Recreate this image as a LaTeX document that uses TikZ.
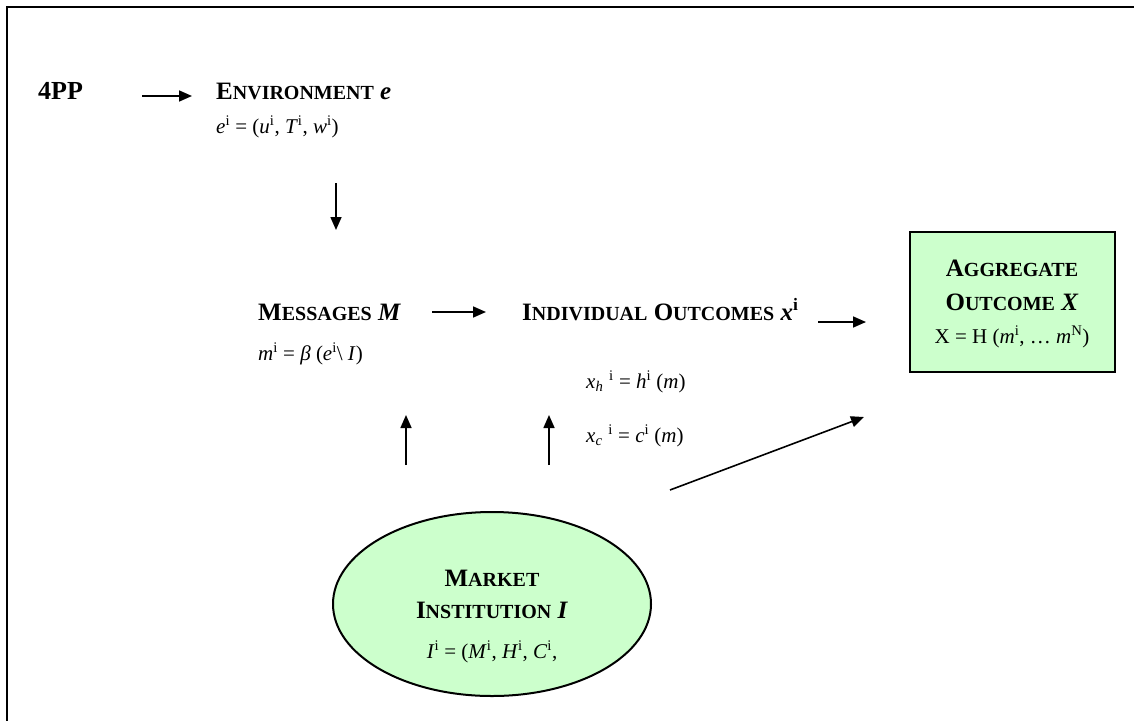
\documentclass[tikz,border=0pt]{standalone}
\usepackage{fontspec}
\setmainfont{Liberation Serif}
\usetikzlibrary{arrows.meta,shapes.geometric}
\definecolor{boxgreen}{HTML}{CCFFCC}
\newcommand{\hdw}[2]{{\bfseries #1{\fontsize{20}{22}\selectfont #2}}}
\newcommand{\sps}[1]{\textsuperscript{#1}}
\tikzset{
  hd/.style={anchor=base west, inner sep=0pt, font=\fontsize{25}{28}\selectfont},
  fm/.style={anchor=base west, inner sep=0pt, font=\fontsize{21}{24}\selectfont},
  arr/.style={line width=1.6pt, -{Triangle[length=13pt,width=11pt]}},
  frame/.style={line width=2pt},
  greenbox/.style={draw, line width=2pt, fill=boxgreen, inner sep=0pt},
}
\begin{document}
\begin{tikzpicture}[x=1pt,y=-1pt]
\useasboundingbox (0,0) rectangle (1134,720);
\draw[frame] (7,7) rectangle (1250,800);

% top row
\node[hd] (pp) at (38,99) {\bfseries\fontsize{26}{28}\selectfont 4PP};
\node[hd] (env) at (216,99) {\hdw{E}{NVIRONMENT} \textbf{\textit{e}}};
\node[fm] (envf) at (216,133) {\textit{e}\sps{i} = (\textit{u}\sps{i}, \textit{T}\sps{i}, \textit{w}\sps{i})};
\coordinate (a1s) at (142,96);
\coordinate (a1e) at (192,96);
\draw[arr] (a1s) -- (a1e);
\coordinate (a2s) at (336,183);
\coordinate (a2e) at (336,230);
\draw[arr] (a2s) -- (a2e);

% middle row
\node[hd] (msg) at (258,320) {\hdw{M}{ESSAGES} \textbf{\textit{M}}};
\node[fm] (msgf) at (258,360) {\textit{m}\sps{i} = \textit{β} (\textit{e}\sps{i}\textbackslash{} \textit{I})};
\node[hd] (ind) at (522,320) {\hdw{I}{NDIVIDUAL} \hdw{O}{UTCOMES} \textbf{\textit{x}}\sps{\bfseries i}};
\node[fm] (xh) at (586,388) {\textit{x\textsubscript{h}}\;\sps{i} = \textit{h}\sps{i} (\textit{m})};
\node[fm] (xc) at (586,442) {\textit{x\textsubscript{c}}\;\sps{i} = \textit{c}\sps{i} (\textit{m})};
\coordinate (a3s) at (432,312);
\coordinate (a3e) at (486,312);
\draw[arr] (a3s) -- (a3e);
\coordinate (a4s) at (818,322);
\coordinate (a4e) at (866,322);
\draw[arr] (a4s) -- (a4e);

% aggregate box
\node[greenbox, minimum width=205pt, minimum height=140pt] (agg) at (1012,302) {};
\node[hd, anchor=base] (agg1) at (1012,276) {\hdw{A}{GGREGATE}};
\node[hd, anchor=base] (agg2) at (1012,310) {\hdw{O}{UTCOME} \textbf{\textit{X}}};
\node[fm, anchor=base] (agg3) at (1012,343) {X = H (\textit{m}\sps{i}, … \textit{m}\sps{N})};

% market institution
\node[draw, line width=2pt, fill=boxgreen, ellipse, minimum width=318pt, minimum height=184pt, inner sep=0pt] (mkt) at (492,604) {};
\node[hd, anchor=base] (mkt1) at (492,586) {\hdw{M}{ARKET}};
\node[hd, anchor=base] (mkt2) at (492,618) {\hdw{I}{NSTITUTION} \textbf{\textit{I}}};
\node[fm, anchor=base] (mkt3) at (492,658) {\textit{I}\sps{i} = (\textit{M}\sps{i}, \textit{H}\sps{i}, \textit{C}\sps{i},};

\coordinate (a5s) at (406,465);
\coordinate (a5e) at (406,415);
\draw[arr] (a5s) -- (a5e);
\coordinate (a6s) at (549,465);
\coordinate (a6e) at (549,415);
\draw[arr] (a6s) -- (a6e);
\coordinate (a7s) at (670,490);
\coordinate (a7e) at (864,417);
\draw[arr] (a7s) -- (a7e);
\end{tikzpicture}
\end{document}
